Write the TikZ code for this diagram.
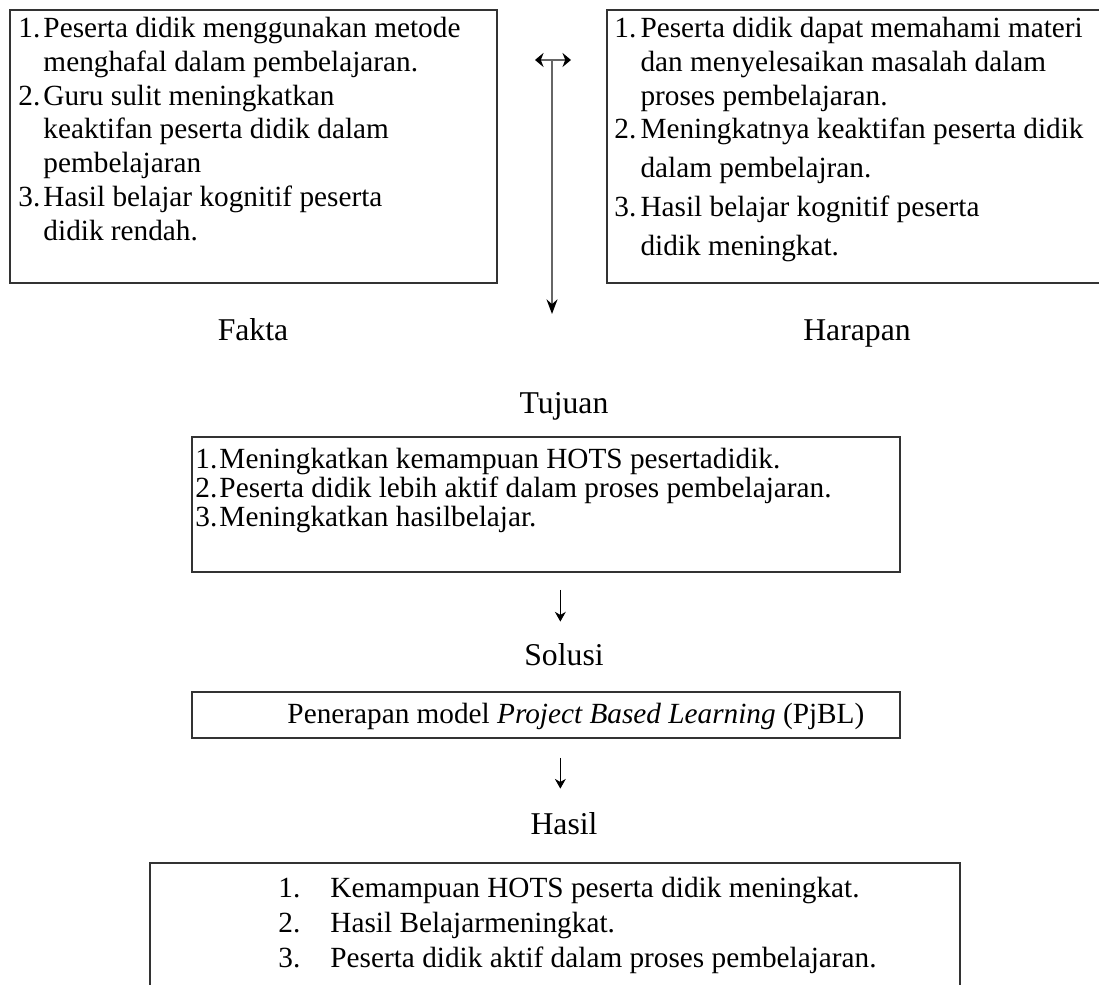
\documentclass[tikz,border=0pt]{standalone}
\usepackage{fontspec}
\setmainfont{Liberation Serif}
\usetikzlibrary{arrows.meta, positioning, fit}

\begin{document}
\begin{tikzpicture}[
    x=0.41pt, y=-0.41pt,
    box/.style={rectangle, draw=black!80, line width=0.7pt, inner sep=0pt},
    heading/.style={anchor=base, inner sep=0pt, font=\fontsize{13}{15}\selectfont},
    listtext/.style={anchor=north west, inner sep=0pt, align=left},
    arrow/.style={-{Stealth[length=4pt, width=4.5pt]}, black, line width=0.4pt},
    bigarrow/.style={-{Stealth[length=6pt, width=4.5pt, color=black]}, black!60, line width=0.7pt},
    doublearrow/.style={{Stealth[length=3.5pt, width=5.8pt, color=black]}-{Stealth[length=3.5pt, width=5.8pt, color=black]}, black!60, line width=0.7pt}
]
\useasboundingbox (0,0) rectangle (1099,985);
\clip (0,0) rectangle (1099,985);

% Top - Fakta and Harapan
\node[box, fit={(10,10) (497,283)}] (faktabox) {};
\node[box, fit={(607,10) (1110,283)}] (harapanbox) {};

\node[listtext, font=\fontsize{12}{13.9}\selectfont] (faktatext) at (18,13) {%
\begin{tabular}{@{}p{10.25pt}@{}l@{}}
1. & Peserta didik menggunakan metode\\
   & menghafal dalam pembelajaran.\\
2. & Guru sulit meningkatkan\\
   & keaktifan peserta didik dalam\\
   & pembelajaran\\
3. & Hasil belajar kognitif peserta\\
   & didik rendah.
\end{tabular}};

\node[listtext, font=\fontsize{12}{13.9}\selectfont] (harapantext) at (614,13) {%
\begin{tabular}{@{}p{10.7pt}@{}l@{}}
1. & Peserta didik dapat memahami materi\\
   & dan menyelesaikan masalah dalam\\
   & proses pembelajaran.\\
2. & Meningkatnya keaktifan peserta didik\\[2pt]
   & dalam pembelajran.\\[2pt]
3. & Hasil belajar kognitif peserta\\[2pt]
   & didik meningkat.
\end{tabular}};

\node[heading] (fakta) at (253,341) {Fakta};
\node[heading] (harapan) at (857,341) {Harapan};

% Gap arrow between the boxes
\coordinate (gapleft) at (535,60);
\coordinate (gapright) at (571,60);
\coordinate (gaptop) at (552,60);
\coordinate (gapend) at (552,314);
\draw[doublearrow] (gapleft) -- (gapright);
\draw[bigarrow] (gaptop) -- (gapend);

% Tujuan
\node[heading] (tujuan) at (564,414) {Tujuan};
\node[box, fit={(192,437) (900,572)}] (tujuanbox) {};
\node[listtext, font=\fontsize{12}{11.7}\selectfont] (tujuantext) at (195,448) {%
\begin{tabular}{@{}p{9.85pt}@{}l@{}}
1. & Meningkatkan kemampuan HOTS pesertadidik.\\
2. & Peserta didik lebih aktif dalam proses pembelajaran.\\
3. & Meningkatkan hasilbelajar.
\end{tabular}};

% Solusi
\node[heading] (solusi) at (564,666) {Solusi};
\draw[arrow, shorten <=7pt, shorten >=9pt] ([xshift=-1.5pt]tujuanbox.south -| solusi.north) -- ([xshift=-1.5pt]solusi.north);
\node[box, fit={(192,692) (900,738)}] (pjblbox) {};
\node[inner sep=0pt, anchor=base west, font=\fontsize{12}{14}\selectfont] (pjbltext) at (287,724)
    {Penerapan model \textit{Project Based Learning} (PjBL)};

% Hasil
\node[heading] (hasil) at (564,835) {Hasil};
\draw[arrow, shorten <=7.8pt, shorten >=9.8pt] ([xshift=-1.5pt]pjblbox.south -| hasil.north) -- ([xshift=-1.5pt]hasil.north);
\node[box, fit={(150,863) (960,1010)}] (hasilbox) {};
\node[listtext, font=\fontsize{12}{14.35}\selectfont] (hasiltext) at (278,873) {%
\begin{tabular}{@{}p{21.3pt}@{}l@{}}
1. & Kemampuan HOTS peserta didik meningkat.\\
2. & Hasil Belajarmeningkat.\\
3. & Peserta didik aktif dalam proses pembelajaran.
\end{tabular}};

\end{tikzpicture}
\end{document}
